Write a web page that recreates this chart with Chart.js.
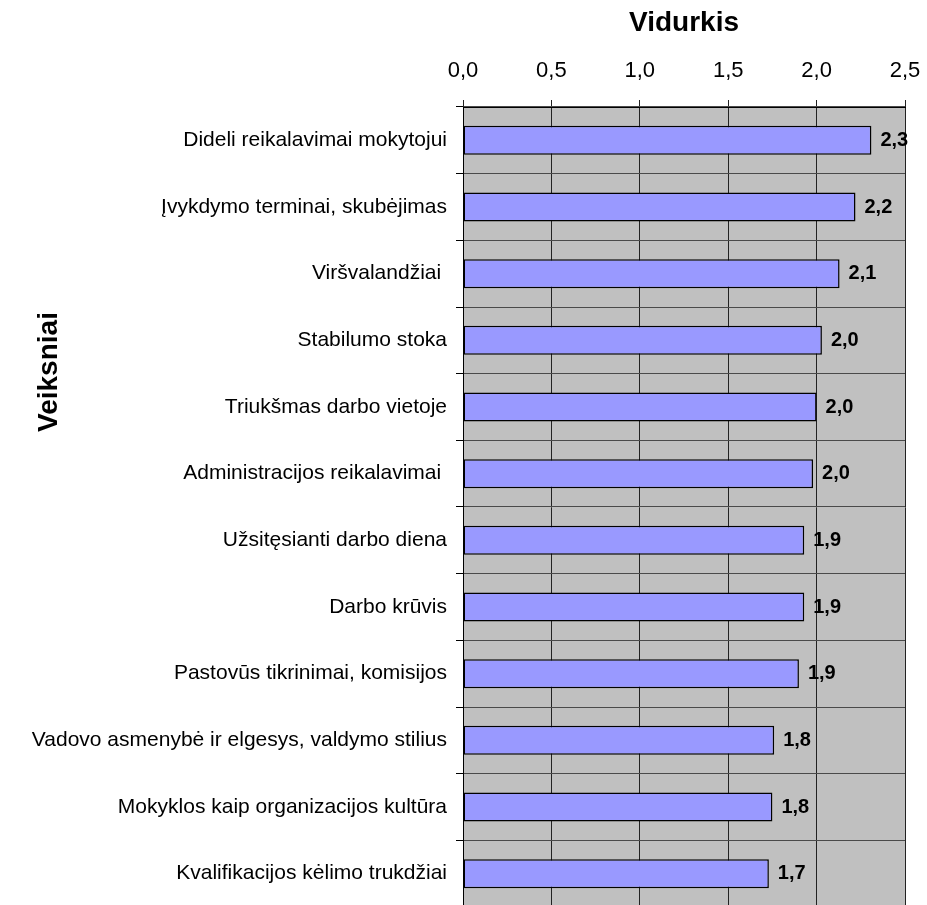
<!DOCTYPE html>
<html lang="lt">
<head>
<meta charset="UTF-8">
<title>Veiksniai – vidurkis</title>
<script src="https://cdn.jsdelivr.net/npm/chart.js"></script>
<style>
  html, body { margin: 0; padding: 0; background: #fff; overflow: hidden; }
  canvas { display: block; }
</style>
</head>
<body>
<canvas id="chart" width="927" height="907"></canvas>
<script>
  // factors, top to bottom
  const factors = [
    'Dideli reikalavimai mokytojui',
    'Įvykdymo terminai, skubėjimas',
    'Viršvalandžiai ',
    'Stabilumo stoka',
    'Triukšmas darbo vietoje',
    'Administracijos reikalavimai ',
    'Užsitęsianti darbo diena',
    'Darbo krūvis',
    'Pastovūs tikrinimai, komisijos',
    'Vadovo asmenybė ir elgesys, valdymo stilius',
    'Mokyklos kaip organizacijos kultūra',
    'Kvalifikacijos kėlimo trukdžiai'
  ];
  // mean score per factor
  const means = [2.31, 2.22, 2.13, 2.03, 2.00, 1.98, 1.93, 1.93, 1.90, 1.76, 1.75, 1.73];
  const xTicks = [0, 0.5, 1.0, 1.5, 2.0, 2.5];
  const xTitle = 'Vidurkis';
  const yTitle = 'Veiksniai';

  const FONT = 'Arial, "Liberation Sans", sans-serif';
  const fmt = v => v.toFixed(1).replace('.', ',');

  // grey plot area behind grid and bars
  const plotBg = {
    id: 'plotBg',
    beforeDraw(chart) {
      const { ctx, chartArea: a } = chart;
      ctx.save();
      ctx.fillStyle = '#c0c0c0';
      ctx.fillRect(a.left, a.top, a.right - a.left, a.bottom - a.top);
      ctx.restore();
    }
  };

  // value next to the end of each bar
  const valueLabels = {
    id: 'valueLabels',
    afterDatasetsDraw(chart) {
      const ctx = chart.ctx;
      const meta = chart.getDatasetMeta(0);
      ctx.save();
      ctx.font = 'bold 20px ' + FONT;
      ctx.fillStyle = '#000';
      ctx.textAlign = 'left';
      ctx.textBaseline = 'middle';
      meta.data.forEach((bar, i) => {
        ctx.fillText(fmt(means[i]), bar.x + 9, bar.y);
      });
      ctx.restore();
    }
  };

  // rotated category axis title (sits above the plot middle in the original)
  const sideTitle = {
    id: 'sideTitle',
    afterDraw(chart) {
      const ctx = chart.ctx;
      ctx.save();
      ctx.translate(49, 372);
      ctx.rotate(-Math.PI / 2);
      ctx.font = 'bold 28px ' + FONT;
      ctx.fillStyle = '#000';
      ctx.textAlign = 'center';
      ctx.textBaseline = 'middle';
      ctx.fillText(yTitle, 0, 0);
      ctx.restore();
    }
  };

  new Chart(document.getElementById('chart').getContext('2d'), {
    type: 'bar',
    data: {
      labels: factors,
      datasets: [{
        data: means,
        backgroundColor: '#9999ff',
        borderColor: '#000',
        borderWidth: 1.5,
        borderSkipped: false,
        barPercentage: 0.435,
        categoryPercentage: 1
      }]
    },
    options: {
      indexAxis: 'y',
      responsive: false,
      animation: false,
      layout: { padding: { left: 0, right: 22, top: 0, bottom: 0 } },
      plugins: {
        legend: { display: false },
        tooltip: { enabled: false }
      },
      scales: {
        x: {
          position: 'top',
          min: xTicks[0],
          max: xTicks[xTicks.length - 1],
          afterBuildTicks: s => { s.ticks = xTicks.map(v => ({ value: v })); },
          afterFit: s => { s.height = 107; s.paddingLeft = 0; s.paddingRight = 0; },
          ticks: {
            callback: v => fmt(v),
            color: '#000',
            font: { family: FONT, size: 22 },
            padding: 16,
            maxRotation: 0
          },
          grid: { color: '#222', tickLength: 7, lineWidth: 1 },
          border: { color: '#000', width: 1 },
          title: {
            display: true,
            text: xTitle,
            color: '#000',
            font: { family: FONT, size: 28, weight: 'bold' },
            padding: { top: 6, bottom: 0 }
          }
        },
        y: {
          afterFit: s => { s.width = 463; s.paddingTop = 0; s.paddingBottom = 0; },
          ticks: {
            color: '#000',
            font: { family: FONT, size: 21 },
            padding: 9,
            autoSkip: false
          },
          grid: { color: '#4a4a4a', tickColor: '#000', tickLength: 7, offset: true },
          border: { color: '#000', width: 1 }
        }
      }
    },
    plugins: [plotBg, valueLabels, sideTitle]
  });
</script>
</body>
</html>
